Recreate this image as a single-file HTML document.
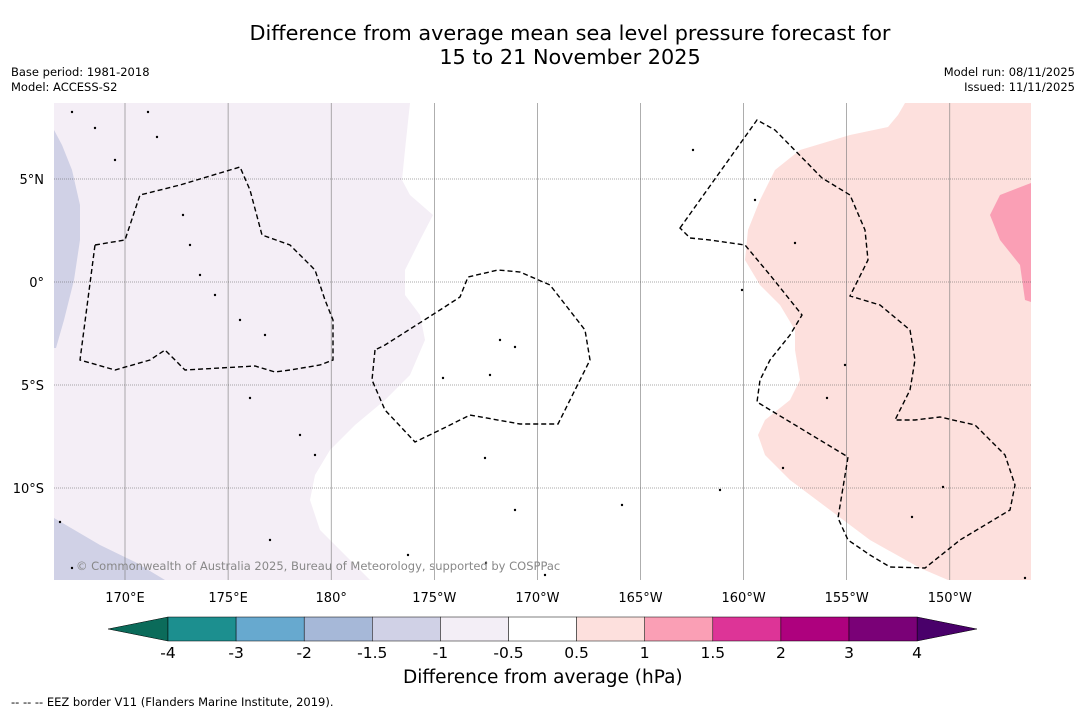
<!DOCTYPE html>
<html><head><meta charset="utf-8"><style>
body{margin:0;background:#fff;font-family:"DejaVu Sans","Liberation Sans",sans-serif;}
#wrap{position:relative;width:1085px;height:713px;overflow:hidden;background:#fff}
.t{position:absolute;white-space:nowrap;color:#000}
</style></head><body>
<div id="wrap">
<div class="t" style="left:0;width:1140px;text-align:center;top:21px;font-size:20.8px;line-height:24px">Difference from average mean sea level pressure forecast for<br>15 to 21 November 2025</div>
<div class="t" style="left:11px;top:65px;font-size:11.5px;line-height:15px">Base period: 1981-2018<br>Model: ACCESS-S2</div>
<div class="t" style="right:10px;top:65px;font-size:11.5px;line-height:15px;text-align:right">Model run: 08/11/2025<br>Issued: 11/11/2025</div>
<svg id="svg" width="1085" height="713" style="position:absolute;left:0;top:0;font-family:'DejaVu Sans',sans-serif"></svg>
<div class="t" style="left:403px;top:667px;font-size:18.5px">Difference from average (hPa)</div>
<div class="t" style="left:11px;top:695px;font-size:11.5px">--  --  -- EEZ border V11 (Flanders Marine Institute, 2019).</div>
</div>
<script>
const lonTicks=[170,175,180,-175,-170,-165,-160,-155,-150];
const lonLabels=["170°E","175°E","180°","175°W","170°W","165°W","160°W","155°W","150°W"];
const latTicks=[5,0,-5,-10];
const latLabels=["5°N","0°","5°S","10°S"];
const cbColors=["#1c8f8f","#67a9cf","#a6b8d8","#d0d1e6","#f3eef6","#ffffff","#fde0dd","#fa9fb5","#dd3497","#ae017e","#7a0177"];
const cbLabels=["-4","-3","-2","-1.5","-1","-0.5","0.5","1","1.5","2","3","4"];
const NS="http://www.w3.org/2000/svg";
const svg=document.getElementById('svg');
const X0=54,X1=1031,Y0=103,Y1=580;
function xOf(lon){let l=lon<0?lon+360:lon;return 125+(l-170)*20.62;}
function yOf(lat){return 282-lat*20.6;}
function mk(t,a,name){const e=document.createElementNS(NS,t);for(const k in a)e.setAttribute(k,a[k]);


svg.appendChild(e);return e;}
mk('rect',{x:X0,y:Y0,width:X1-X0,height:Y1-Y0,fill:'#ffffff'},'map-background');
mk('path',{d:'M54,103 L410,103 L405,150 L402,180 L410,195 L433,215 L420,240 L405,270 L405,295 L420,315 L425,340 L410,375 L385,400 L355,425 L330,450 L315,475 L310,500 L320,530 L345,555 L370,580 L54,580 Z',fill:'#f4eef6'},'region-minus-1');
mk('path',{d:'M54,103 L54,130 L62,145 L72,170 L80,205 L80,240 L74,280 L64,320 L56,348 L54,348 Z',fill:'#d0d1e6'},'region-minus-1-5-top');
mk('path',{d:'M54,518 L100,545 L135,562 L165,580 L54,580 Z',fill:'#d0d1e6'},'region-minus-1-5-bottom');
mk('path',{d:'M905,103 L1031,103 L1031,580 L948,580 L920,568 L870,540 L830,510 L790,480 L765,455 L758,435 L765,420 L790,400 L800,380 L795,350 L795,330 L780,305 L760,285 L745,260 L748,230 L760,200 L775,170 L800,150 L850,135 L888,127 L898,115 Z',fill:'#fde0dd'},'region-plus-0-5');
mk('path',{d:'M1031,183 L1000,195 L990,215 L1000,240 L1020,265 L1025,300 L1031,302 Z',fill:'#fa9fb5'},'region-plus-1');
lonTicks.forEach((l,i)=>{mk('line',{x1:xOf(l),x2:xOf(l),y1:Y0,y2:Y1,stroke:'#777','stroke-width':0.6},'lon-gridline');
const t=mk('text',{x:xOf(l),y:602,'text-anchor':'middle','font-size':13,fill:'#000'},'lon-label');t.textContent=lonLabels[i];});
latTicks.forEach((l,i)=>{mk('line',{x1:X0,x2:X1,y1:yOf(l),y2:yOf(l),stroke:'#555','stroke-width':0.6,'stroke-dasharray':'1,1'},'lat-gridline');
const t=mk('text',{x:44,y:yOf(l)+5,'text-anchor':'end','font-size':13,fill:'#000'},'lat-label');t.textContent=latLabels[i];});
const eez=[
'M95,245 L125,240 L140,195 L180,185 L240,167 L250,190 L262,235 L290,245 L315,270 L325,300 L333,320 L333,360 L320,365 L290,370 L275,372 L255,366 L185,370 L165,350 L150,360 L115,370 L80,360 Z',
'M375,350 L372,380 L385,410 L415,442 L440,430 L470,415 L520,424 L558,424 L590,360 L585,330 L550,285 L520,272 L498,270 L468,277 L460,297 L440,310 L385,345 Z',
'M680,228 L757,120 L775,130 L822,178 L850,195 L865,230 L868,260 L850,296 L880,305 L910,330 L915,360 L910,390 L895,420 L915,420 L940,417 L975,425 L1005,455 L1015,485 L1010,510 L960,540 L925,568 L890,567 L870,555 L848,540 L838,518 L848,457 L757,402 L760,380 L770,360 L790,335 L802,315 L790,300 L770,275 L745,245 L710,240 L690,238 Z'];
eez.forEach(d=>mk('path',{d:d,fill:'none',stroke:'#000','stroke-width':1.4,'stroke-dasharray':'5,3'},'eez-border'));
[[72,112],[95,128],[148,112],[157,137],[115,160],[183,215],[190,245],[200,275],[215,295],[240,320],[265,335],[250,398],[300,435],[315,455],[500,340],[515,347],[490,375],[443,378],[485,458],[515,510],[720,490],[622,505],[693,150],[755,200],[795,243],[742,290],[845,365],[827,398],[783,468],[912,517],[943,487],[1025,578],[60,522],[72,568],[270,540],[408,555],[486,563],[545,575]].forEach(p=>mk('circle',{cx:p[0],cy:p[1],r:1.2,fill:'#000'},'island'));
const ct=mk('text',{x:76,y:570,'font-size':11.5,fill:'#888'},'copyright');ct.textContent='© Commonwealth of Australia 2025, Bureau of Meteorology, supported by COSPPac';
const cbX0=168,cbW=68.1,cbY=617,cbH=24;
mk('polygon',{points:`108,629 ${cbX0},${cbY} ${cbX0},${cbY+cbH}`,fill:'#0b6b5a',stroke:'#000','stroke-width':0.5},'colorbar-extend-low');
const endX=cbX0+cbColors.length*cbW;
mk('polygon',{points:`${endX},${cbY} 977,629 ${endX},${cbY+cbH}`,fill:'#49006a',stroke:'#000','stroke-width':0.5},'colorbar-extend-high');
cbColors.forEach((c,i)=>mk('rect',{x:cbX0+i*cbW,y:cbY,width:cbW,height:cbH,fill:c,stroke:'#000','stroke-width':0.5},'colorbar-bin'));
cbLabels.forEach((l,i)=>{const t=mk('text',{x:cbX0+i*cbW,y:658,'text-anchor':'middle','font-size':15.5,fill:'#000'},'colorbar-tick');t.textContent=l;});
</script>
</body></html>
